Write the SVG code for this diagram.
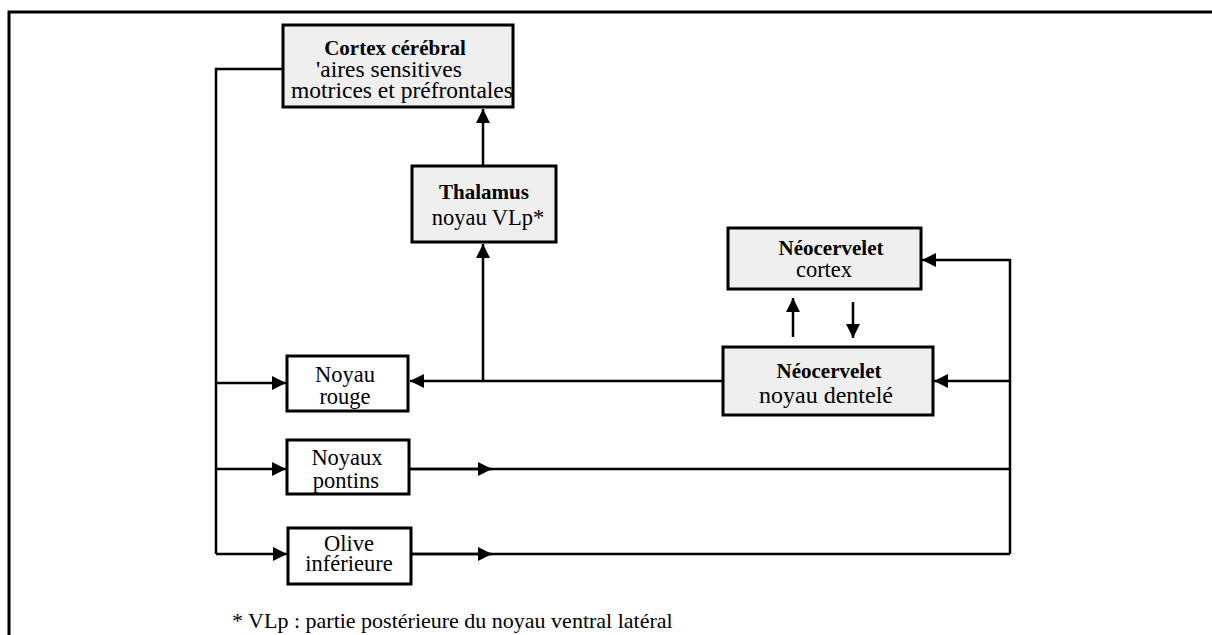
<svg xmlns="http://www.w3.org/2000/svg" width="1212" height="635" viewBox="0 0 1212 635">
<style>
.box{stroke:#000;stroke-width:3}
.g{fill:#efefef}
.w{fill:#fff}
.t{font-family:"Liberation Serif","DejaVu Serif","Times New Roman",serif;font-size:22.5px;fill:#000;text-anchor:middle}
.b{font-weight:bold;font-size:21px}
.ln{fill:none;stroke:#000;stroke-width:2.5}
</style>
<defs>
<marker id="ah" viewBox="0 0 10 10" refX="10" refY="5" markerWidth="14" markerHeight="14" markerUnits="userSpaceOnUse" orient="auto">
<path d="M0,0 L10,5 L0,10 Z" fill="#000"/>
</marker>
</defs>
<rect width="1212" height="635" fill="#fff"/>
<g id="frame">
<path d="M9,635 V12 H1212" fill="none" stroke="#000" stroke-width="3"/>
</g>
<g id="connectors">
<path class="ln" d="M283,69 H216 V554"/>
<path class="ln" d="M216,383 H286" marker-end="url(#ah)"/>
<path class="ln" d="M216,469 H286" marker-end="url(#ah)"/>
<path class="ln" d="M216,554 H287" marker-end="url(#ah)"/>
<path class="ln" d="M723,381 H410" marker-end="url(#ah)"/>
<path class="ln" d="M483,381 V244" marker-end="url(#ah)"/>
<path class="ln" d="M483,166 V109" marker-end="url(#ah)"/>
<path class="ln" d="M793,337 V298" marker-end="url(#ah)"/>
<path class="ln" d="M853,302 V338" marker-end="url(#ah)"/>
<path class="ln" d="M1010,554 V260 H922" marker-end="url(#ah)"/>
<path class="ln" d="M1010,381 H934" marker-end="url(#ah)"/>
<path class="ln" d="M410,469 H1010"/>
<path class="ln" d="M410,469 H492" marker-end="url(#ah)"/>
<path class="ln" d="M412,554 H1010"/>
<path class="ln" d="M412,554 H492" marker-end="url(#ah)"/>
</g>
<g id="cortex">
<rect class="box g" x="283" y="25" width="230" height="82"/>
<text class="t b" x="395" y="55">Cortex cérébral</text>
<text class="t" x="389" y="77" style="font-size:23.5px">'aires sensitives</text>
<text class="t" x="402" y="98" style="font-size:23.5px">motrices et préfrontales</text>
</g>
<g id="thalamus">
<rect class="box g" x="412" y="166" width="144" height="76"/>
<text class="t b" x="484" y="199">Thalamus</text>
<text class="t" x="488" y="225">noyau VLp*</text>
</g>
<g id="neo-cortex">
<rect class="box g" x="728" y="228" width="193" height="61"/>
<text class="t b" x="831" y="255">Néocervelet</text>
<text class="t" x="824" y="277">cortex</text>
</g>
<g id="neo-dentele">
<rect class="box g" x="723" y="347" width="210" height="68"/>
<text class="t b" x="829" y="378">Néocervelet</text>
<text class="t" x="826" y="403" style="font-size:24px">noyau dentelé</text>
</g>
<g id="noyau-rouge">
<rect class="box w" x="287" y="356" width="121" height="55"/>
<text class="t" x="345" y="382">Noyau</text>
<text class="t" x="345" y="404">rouge</text>
</g>
<g id="noyaux-pontins">
<rect class="box w" x="287" y="440" width="122" height="54"/>
<text class="t" x="347" y="465">Noyaux</text>
<text class="t" x="346" y="488">pontins</text>
</g>
<g id="olive">
<rect class="box w" x="288" y="528" width="123" height="56"/>
<text class="t" x="349" y="551">Olive</text>
<text class="t" x="349" y="571">inférieure</text>
</g>
<g id="footnote">
<text class="t" x="232" y="628" style="text-anchor:start;font-size:22px">* VLp : partie postérieure du noyau ventral latéral</text>
</g>
</svg>
